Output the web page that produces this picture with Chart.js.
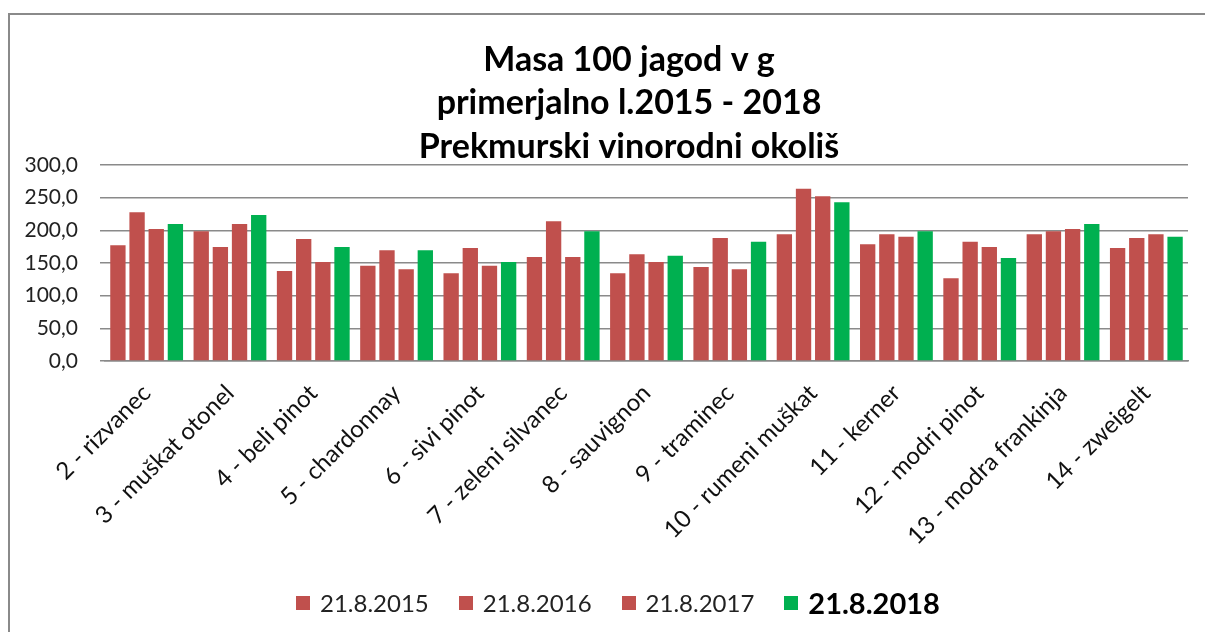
<!DOCTYPE html>
<html>
<head>
<meta charset="utf-8">
<script src="https://cdn.jsdelivr.net/npm/chart.js@4"></script>
<style>
  body { margin: 0; background: #fff; overflow: hidden; }
  #okvir {
    position: absolute; left: 8px; top: 13px; width: 1197px; height: 619px;
    border-left: 2px solid #8a8a8a; border-top: 2px solid #8a8a8a;
  }
  #grafikon { position: absolute; left: 0; top: 0; }
  #legenda {
    position: absolute; left: 286px; top: 570px; display: flex; align-items: center;
    font-family: Lato, sans-serif; font-size: 24px; color: #222;
  }
  .postavka { display: flex; align-items: center; margin-right: 30px; }
  .kvadrat { width: 14px; height: 14px; margin-right: 10px; }
</style>
</head>
<body>
<div id="okvir">
  <canvas id="grafikon" width="1195" height="617"></canvas>
  <div id="legenda"></div>
</div>
<script>
// naslovi
const naslov = ["Masa 100 jagod v g", "primerjalno l.2015 - 2018", "Prekmurski vinorodni okoliš"];

// sorte
const sorte = [
  "2 - rizvanec", "3 - muškat otonel", "4 - beli pinot", "5 - chardonnay", "6 - sivi pinot",
  "7 - zeleni silvanec", "8 - sauvignon", "9 - traminec", "10 - rumeni muškat", "11 - kerner",
  "12 - modri pinot", "13 - modra frankinja", "14 - zweigelt"
];

// datumi merjenja
const datumi = ["21.8.2015", "21.8.2016", "21.8.2017", "21.8.2018"];

// masa 100 jagod (g)
const masa2015 = [177.0, 198.5, 137.8, 145.9, 134.2, 159.2, 134.2, 143.9, 193.9, 178.6, 126.5, 193.9, 173.0];
const masa2016 = [227.6, 174.5, 186.7, 169.4, 173.0, 213.8, 163.3, 188.3, 263.8, 193.9, 182.7, 198.5, 188.3];
const masa2017 = [202.0, 209.7, 151.5, 140.3, 145.9, 159.2, 151.5, 140.3, 252.0, 190.3, 174.5, 202.0, 193.9];
const masa2018 = [209.7, 223.5, 174.5, 169.4, 151.5, 198.5, 161.2, 182.7, 242.9, 198.5, 157.7, 209.7, 190.3];

const barve = ["#C0504D", "#C0504D", "#C0504D", "#00B050"];
const serije = [masa2015, masa2016, masa2017, masa2018];

// Plugin, ki nariše naslov v treh vrsticah
const naslovPlugin = {
  id: "naslovPlugin",
  afterDraw(chart) {
    const ctx = chart.ctx;
    ctx.save();
    ctx.fillStyle = "#000";
    ctx.font = "bold 34px Lato, sans-serif";
    ctx.textAlign = "center";
    ctx.textBaseline = "middle";
    naslov.forEach((vrstica, i) => {
      ctx.fillText(vrstica, 619, 45 + i * 43.5);
    });
    ctx.restore();
  }
};

const grafikon = new Chart(document.getElementById("grafikon"), {
  type: "bar",
  data: {
    labels: sorte,
    datasets: serije.map((podatki, i) => ({
      label: datumi[i],
      data: podatki,
      backgroundColor: barve[i],
      categoryPercentage: 0.92,
      barPercentage: 0.8
    }))
  },
  options: {
    responsive: false,
    animation: false,
    layout: { padding: { top: 150, right: 17, bottom: 71, left: 0 } },
    plugins: {
      legend: { display: false },
      tooltip: { enabled: false }
    },
    scales: {
      x: {
        grid: { display: false },
        border: { color: "#8a8a8a", width: 1.5 },
        ticks: {
          color: "#111",
          font: { family: "Lato", size: 24 },
          minRotation: 45,
          maxRotation: 45,
          padding: 10
        },
        afterFit(scale) { scale.height = 200; }
      },
      y: {
        min: 0,
        max: 300,
        grid: { color: "#8a8a8a", lineWidth: 1.5, tickLength: 5 },
        border: { display: false },
        ticks: {
          stepSize: 50,
          color: "#222",
          padding: 22,
          font: { family: "Lato", size: 21 },
          callback: (v) => v.toFixed(1).replace(".", ",")
        },
        afterFit(scale) { scale.width = 95; }
      }
    }
  },
  plugins: [naslovPlugin]
});

// Legenda v HTML, zadnja postavka krepko
const legenda = document.getElementById("legenda");
datumi.forEach((d, i) => {
  const el = document.createElement("div");
  el.className = "postavka";
  const kv = document.createElement("span");
  kv.className = "kvadrat";
  kv.style.background = barve[i];
  const tx = document.createElement("span");
  tx.textContent = d;
  if (i === datumi.length - 1) {
    tx.style.fontWeight = "bold";
    tx.style.fontSize = "29px";
    tx.style.color = "#000";
  }
  el.appendChild(kv);
  el.appendChild(tx);
  legenda.appendChild(el);
});
</script>
</body>
</html>
